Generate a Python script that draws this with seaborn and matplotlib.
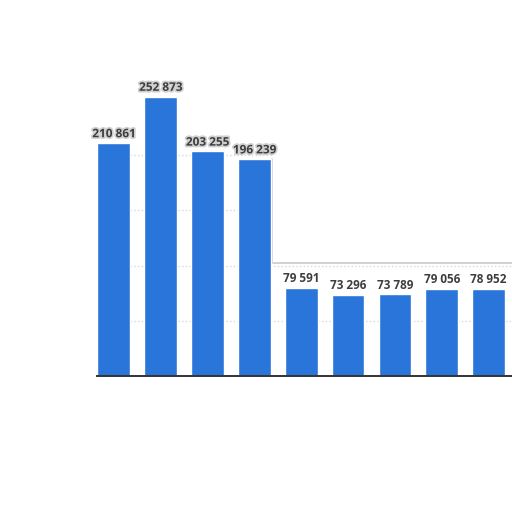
import matplotlib
matplotlib.use("Agg")
import matplotlib.pyplot as plt
import matplotlib.patheffects as pe
import seaborn as sns
import pandas as pd

categories = ["1", "2", "3", "4", "5", "6", "7", "8", "9"]
values = [210861, 252873, 203255, 196239, 79591, 73296, 73789, 79056, 78952]
labels = ["210 861", "252 873", "203 255", "196 239", "79 591",
          "73 296", "73 789", "79 056", "78 952"]

df = pd.DataFrame({"cat": categories, "val": values})

sns.set_theme(style="white")
plt.rcParams["font.family"] = ["Open Sans", "DejaVu Sans"]

fig = plt.figure(figsize=(5.12, 5.12), dpi=100)
ax_left = 97 / 512
ax_bottom = 1 - 376 / 512
ax_top_px = 376 - 260000 * 0.001105
ax_h = (376 - ax_top_px) / 512
ax = fig.add_axes([ax_left, ax_bottom, 1 - ax_left, ax_h])

sns.barplot(data=df, x="cat", y="val", color="#2a75da", width=0.70,
            saturation=1, ax=ax, zorder=2)

ax.set_ylim(0, 260000)
ax.set_xlim(-0.36, 8.50)
ax.set_yticks([0, 50000, 100000, 150000, 200000])
ax.yaxis.grid(True, color="#d9d9d9", linestyle=":", linewidth=1)
ax.set_axisbelow(True)
ax.set_xticks([])
ax.set_yticklabels([])
ax.tick_params(left=False, bottom=False)
ax.set_xlabel("")
ax.set_ylabel("")
for s in ["left", "right", "top"]:
    ax.spines[s].set_visible(False)
ax.spines["bottom"].set_color("#333333")
ax.spines["bottom"].set_linewidth(1.4)

# overlay panel: white area above the low bars, with a faint edge
ax.fill_between([3.37, 9.0], 102000, 400000, color="white", zorder=1.5,
                clip_on=False, linewidth=0)
ax.plot([3.37, 3.37, 9.0], [values[3], 102000, 102000], color="#cfcfcf",
        linewidth=1.3, zorder=1.6, clip_on=False)

for i, (v, lab) in enumerate(zip(values, labels)):
    effects = [pe.withStroke(linewidth=2.5, foreground="#d0d0d0")] if i < 4 else []
    ax.annotate(lab, (i, v), xytext=(0, 2), textcoords="offset points",
                ha="center", va="bottom", fontsize=8.5, fontweight="bold",
                color="#3d3d3d", zorder=4, path_effects=effects,
                annotation_clip=False)

fig.savefig("out.png", dpi=100)
